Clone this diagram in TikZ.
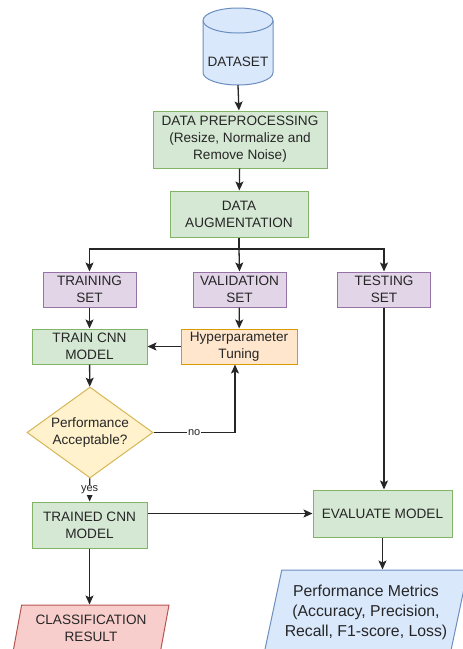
\documentclass[tikz,border=0pt]{standalone}
\usepackage{fontspec}
\setmainfont{Liberation Sans}
\usetikzlibrary{shapes.geometric,arrows.meta}

\definecolor{greenfill}{HTML}{D5E8D4}
\definecolor{greenline}{HTML}{82B366}
\definecolor{purplefill}{HTML}{E1D5E7}
\definecolor{purpleline}{HTML}{9673A6}
\definecolor{orangefill}{HTML}{FFE6CC}
\definecolor{orangeline}{HTML}{D79B00}
\definecolor{yellowfill}{HTML}{FFF2CC}
\definecolor{yellowline}{HTML}{D6B656}
\definecolor{redfill}{HTML}{F8CECC}
\definecolor{redline}{HTML}{B85450}
\definecolor{bluefill}{HTML}{DAE8FC}
\definecolor{blueline}{HTML}{6C8EBF}
\definecolor{ink}{HTML}{262626}

\begin{document}
\begin{tikzpicture}[x=1pt, y=1pt,
  font=\fontsize{13.6}{17}\selectfont,
  every node/.style={text=ink},
  box/.style={draw, line width=1pt, align=center, inner sep=0pt},
  stepbox/.style={box, fill=greenfill, draw=greenline},
  setbox/.style={box, fill=purplefill, draw=purpleline, minimum width=93pt, minimum height=35pt},
  tunebox/.style={box, fill=orangefill, draw=orangeline},
  decision/.style={box, diamond, aspect=1.38, fill=yellowfill, draw=yellowline,
    minimum width=126pt, minimum height=91pt},
  outbox/.style={box, trapezium, trapezium left angle=72, trapezium right angle=108,
    trapezium stretches body},
  tag/.style={font=\fontsize{11}{13}\selectfont, fill=white, inner sep=1pt},
  arw/.style={-{Stealth[length=9pt, width=8pt, inset=2pt]}, line width=1.3pt, draw=ink},
  ]

  % page frame
  \useasboundingbox (0,0) rectangle (463,-649);
  \clip (0,0) rectangle (463,-649);

  % DATASET -- cylinder drawn by hand
  \filldraw[fill=bluefill, draw=blueline, line width=1pt]
    (203,-20.5) -- (203,-72.5)
    arc[start angle=180, end angle=360, x radius=35, y radius=12.5]
    -- (273,-20.5)
    arc[start angle=0, end angle=180, x radius=35, y radius=12.5] -- cycle;
  \draw[blueline, line width=1pt] (203,-20.5)
    arc[start angle=180, end angle=360, x radius=35, y radius=12.5];
  \node (dataset) at (238,-62) {DATASET};
  \coordinate (dbbottom) at (238,-85);

  % preprocessing chain
  \node[stepbox, minimum width=174pt, minimum height=57pt] (prep) at (240,-139.5)
    {DATA PREPROCESSING\\(Resize, Normalize and\\Remove Noise)};
  \node[stepbox, minimum width=138pt, minimum height=46pt] (aug) at (239,-214)
    {DATA\\AUGMENTATION};

  % the three subsets
  \node[setbox] (trainset) at (89.5,-289.5) {TRAINING\\SET};
  \node[setbox] (valset)   at (239.5,-289.5) {VALIDATION\\SET};
  \node[setbox] (testset)  at (384,-289.5) {TESTING\\SET};

  % training loop
  \node[stepbox, minimum width=115pt, minimum height=35pt] (train) at (89.5,-346.5)
    {TRAIN CNN\\MODEL};
  \node[tunebox, minimum width=116pt, minimum height=35pt] (tune) at (239,-346.5)
    {Hyperparameter\\Tuning};
  \node[decision] (check) at (90,-432.5) {Performance\\Acceptable?};
  \node[stepbox, minimum width=115pt, minimum height=46pt] (trained) at (89.5,-525)
    {TRAINED CNN\\MODEL};

  % evaluation side
  \node[stepbox, minimum width=139pt, minimum height=47pt] (eval) at (382.5,-513.5)
    {EVALUATE MODEL};

  % outputs -- parallelograms
  \node[outbox, fill=redfill, draw=redline, minimum width=156pt, minimum height=47pt]
    (result) at (91,-628.5) {CLASSIFICATION\\RESULT};
  \node[outbox, fill=bluefill, draw=blueline, minimum width=204pt, minimum height=84pt,
    font=\fontsize{15.8}{20}\selectfont]
    (metrics) at (366,-612)
    {Performance Metrics\\(Accuracy, Precision,\\Recall, F1-score, Loss)};

  % connectors
  \draw[arw] (dbbottom) -- (prep);
  \draw[arw] (prep) -- (aug);
  \coordinate (split) at (239,-249);
  \draw[line width=1.3pt, ink] (aug.south) -- (split);
  \draw[arw] (split) -| (trainset.north);
  \draw[arw] (split) -- (valset.north);
  \draw[arw] (split) -| (testset.north);
  \draw[arw] (trainset) -- (train);
  \draw[arw] (valset) -- (tune);
  \draw[arw] (tune) -- (train);
  \draw[arw] (train) -- (check);
  \draw[arw] (check.east) -| node[tag, pos=0.25] {no} ([xshift=-4pt]tune.south);
  \draw[arw] (check) -- node[tag] {yes} (trained);
  \draw[arw] (trained.east |- eval.west) -- (eval.west);
  \draw[arw] (testset.south) -- (testset.south |- eval.north);
  \draw[arw] (trained) -- (result.north -| trained.south);
  \draw[arw] (eval.south) -- (eval.south |- metrics.north);

\end{tikzpicture}
\end{document}
